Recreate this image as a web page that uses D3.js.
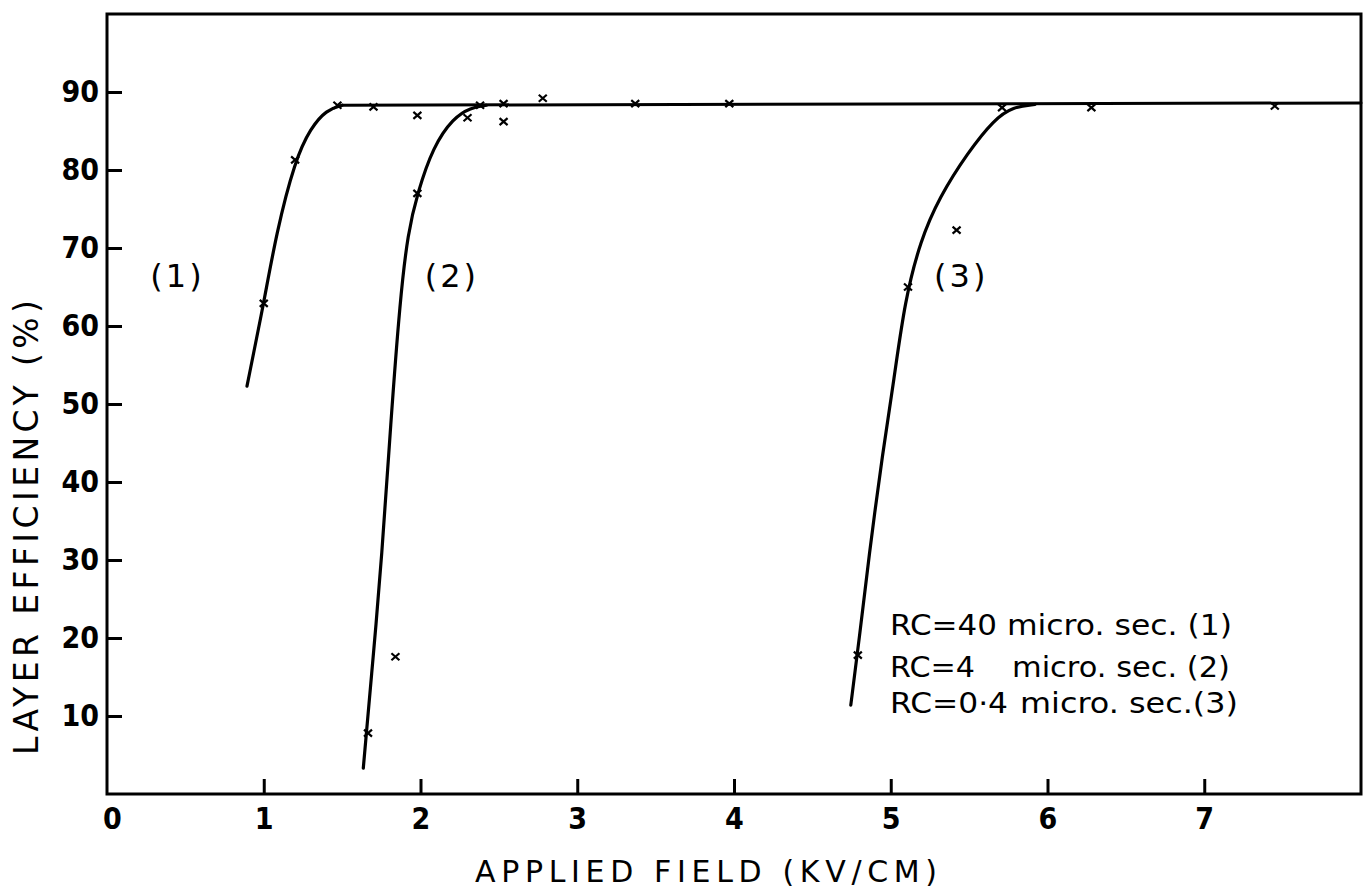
<!DOCTYPE html>
<html>
<head>
<meta charset="utf-8">
<script src="https://cdn.jsdelivr.net/npm/d3@7"></script>
<style>
  html, body { margin: 0; padding: 0; background: #fff; }
  svg { display: block; }
</style>
</head>
<body>
<svg id="chart" width="1371" height="888"></svg>
<script>
// ---- data ----
const xTickValues = [0, 1, 2, 3, 4, 5, 6, 7];
const yTickValues = [10, 20, 30, 40, 50, 60, 70, 80, 90];
const xTitle = "APPLIED FIELD (KV/CM)";
const yTitle = "LAYER EFFICIENCY (%)";

// smooth curves (field kV/cm, efficiency %)
const curve1 = [[0.893, 52.3], [1.0, 62.9], [1.08, 71.9], [1.20, 81.3], [1.30, 85.4], [1.40, 87.7], [1.50, 88.3]];
const curve2 = [[1.635, 3.3], [1.70, 18.0], [1.752, 30.0], [1.81, 47.6], [1.87, 63.5], [1.92, 72.0], [1.98, 77.0], [2.08, 83.0], [2.21, 86.7], [2.32, 88.0], [2.42, 88.3]];
const curve3 = [[4.745, 11.4], [4.80, 20.0], [4.86, 30.4], [4.95, 44.0], [5.02, 53.0], [5.09, 63.3], [5.19, 71.0], [5.31, 76.5], [5.49, 82.2], [5.66, 86.5], [5.78, 88.1], [5.92, 88.4]];
const plateau = [[1.50, 88.3], [8.0, 88.6]];

// measured points (x marks)
const points1 = [[1.0, 62.9], [1.2, 81.3], [1.47, 88.3], [1.70, 88.1], [1.98, 87.0]];
const points2 = [[1.665, 7.8], [1.84, 17.6], [1.98, 77.0], [2.30, 86.7], [2.38, 88.3], [2.53, 88.5], [2.53, 86.2], [2.78, 89.2], [3.37, 88.5], [3.97, 88.5]];
const points3 = [[4.79, 17.8], [5.11, 65.0], [5.42, 72.3], [5.71, 88.0], [6.28, 88.0], [7.45, 88.2]];

// curve labels placed at data coordinates
const curveLabels = ["(1)", "(2)", "(3)"];
const curveLabelPos = [[0.45, 65.0], [2.2, 65.0], [5.45, 65.0]];

// legend
const legendRC = ["RC=40", "RC=4", "RC=0·4"];
const legendRest = ["micro. sec. (1)", "micro. sec. (2)", "micro. sec.(3)"];

// ---- drawing ----
const svg = d3.select("#chart");
const mLeft = 107, mRight = 1361, mTop = 14, mBottom = 794;

const x = d3.scaleLinear().domain([0, 8]).range([mLeft, mRight]);
const y = d3.scaleLinear().domain([0, 100]).range([mBottom, mTop]);

const tickFont = "'DejaVu Sans Condensed', 'DejaVu Sans', sans-serif";
const textFont = "'DejaVu Sans', 'Noto Sans', sans-serif";

// axes
const yAxis = d3.axisLeft(y).tickValues(yTickValues).tickSize(-15).tickPadding(8).tickFormat(d3.format("d"));
const xAxis = d3.axisBottom(x).tickValues(xTickValues).tickSize(-15).tickPadding(14).tickFormat(d3.format("d"));

const gy = svg.append("g").attr("transform", `translate(${mLeft},0)`).call(yAxis);
const gx = svg.append("g").attr("transform", `translate(0,${mBottom})`).call(xAxis);

[gy, gx].forEach(g => {
  g.select(".domain").remove();
  g.selectAll(".tick line").attr("stroke", "#000").attr("stroke-width", 3);
  g.selectAll(".tick text")
    .attr("fill", "#000")
    .style("font-family", tickFont)
    .style("font-weight", "bold")
    .style("font-size", "30px");
});
gx.selectAll(".tick").filter(d => d === 0).select("line").remove();
gx.selectAll(".tick").filter(d => d === 0).select("text").attr("x", 5);

// frame
svg.append("rect")
  .attr("x", mLeft).attr("y", mTop)
  .attr("width", mRight - mLeft).attr("height", mBottom - mTop)
  .attr("fill", "none").attr("stroke", "#000").attr("stroke-width", 3);

// curves
const smooth = d3.line().x(d => x(d[0])).y(d => y(d[1])).curve(d3.curveBasis);
const straight = d3.line().x(d => x(d[0])).y(d => y(d[1]));
[curve1, curve2, curve3].forEach(c => {
  svg.append("path").datum(c)
    .attr("d", smooth)
    .attr("fill", "none").attr("stroke", "#000")
    .attr("stroke-width", 3.2).attr("stroke-linecap", "round");
});
svg.append("path").datum(plateau)
  .attr("d", straight)
  .attr("fill", "none").attr("stroke", "#000")
  .attr("stroke-width", 3).attr("stroke-linecap", "round");

// x markers
const markG = svg.append("g");
[].concat(points1, points2, points3).forEach(p => {
  markG.append("path")
    .attr("transform", `translate(${x(p[0])},${y(p[1])})`)
    .attr("d", "M-4,-3.5L4,3.5M-4,3.5L4,-3.5")
    .attr("stroke", "#000").attr("stroke-width", 2.2).attr("fill", "none");
});

// curve labels
curveLabels.forEach((t, i) => {
  svg.append("text")
    .attr("x", x(curveLabelPos[i][0])).attr("y", y(curveLabelPos[i][1]))
    .attr("text-anchor", "middle")
    .style("font-family", textFont).style("font-size", "32px")
    .style("letter-spacing", "3px")
    .text(t);
});

// legend
const legBase = [635, 677, 713];
const legRestX = [1007, 1012, 1020];
const legRestW = [225, 218, 218];
const legRCW = [107, 85, 118];
legendRC.forEach((t, i) => {
  svg.append("text")
    .attr("x", 890).attr("y", legBase[i])
    .attr("textLength", legRCW[i]).attr("lengthAdjust", "spacingAndGlyphs")
    .style("font-family", textFont).style("font-size", "29px")
    .text(t);
  svg.append("text")
    .attr("x", legRestX[i]).attr("y", legBase[i])
    .attr("textLength", legRestW[i]).attr("lengthAdjust", "spacingAndGlyphs")
    .style("font-family", textFont).style("font-size", "29px")
    .text(legendRest[i]);
});

// axis titles
svg.append("text")
  .attr("x", 475).attr("y", 882)
  .attr("textLength", 462).attr("lengthAdjust", "spacing")
  .style("font-family", textFont).style("font-size", "30px")
  .text(xTitle);

svg.append("text")
  .attr("transform", "translate(38,755) rotate(-90)")
  .attr("x", 0).attr("y", 0)
  .attr("textLength", 455).attr("lengthAdjust", "spacing")
  .style("font-family", textFont).style("font-size", "33px")
  .text(yTitle);
</script>
</body>
</html>
